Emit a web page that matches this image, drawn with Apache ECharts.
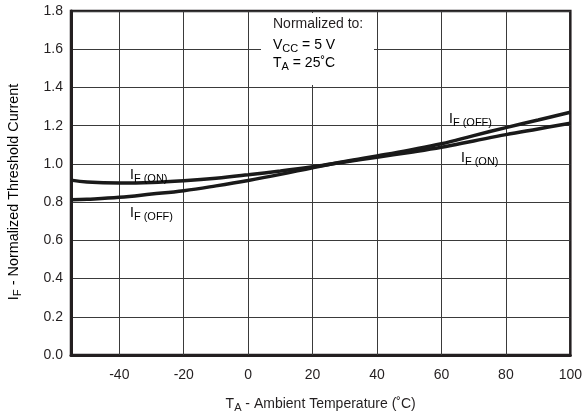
<!DOCTYPE html>
<html>
<head>
<meta charset="utf-8">
<script src="https://cdn.jsdelivr.net/npm/echarts@6/dist/echarts.min.js"></script>
<style>
html,body{margin:0;padding:0;background:#fff;}
#chart{width:585px;height:418px;}
</style>
</head>
<body>
<div id="chart"></div>
<script>
// Data
const temperatures = [-55, -50, -40, -30, -20, -10, 0, 10, 20, 30, 40, 50, 60, 70, 80, 90, 100];
const ifOn  = [0.915, 0.905, 0.900, 0.903, 0.912, 0.925, 0.943, 0.963, 0.985, 1.010, 1.035, 1.060, 1.087, 1.120, 1.153, 1.183, 1.213];
const ifOff = [0.812, 0.815, 0.825, 0.842, 0.860, 0.885, 0.913, 0.945, 0.980, 1.013, 1.042, 1.072, 1.105, 1.148, 1.190, 1.230, 1.270];
const xTicks = [-40, -20, 0, 20, 40, 60, 80, 100];
const yTicks = [0, 0.2, 0.4, 0.6, 0.8, 1.0, 1.2, 1.4, 1.6, 1.8];

const FONT = 'Liberation Sans, Arial, Helvetica, sans-serif';
const TXT = '#231f20';
const FS = 14;

const chart = echarts.init(document.getElementById('chart'), null, {renderer: 'canvas'});

const rich = {
  b: {fontSize: FS, fontFamily: FONT, color: TXT},
  s: {fontSize: FS - 3, fontFamily: FONT, color: TXT, padding: [7, 0, 0, 0]}
};
const richY = {
  b: {fontSize: 14.4, fontFamily: FONT, color: TXT},
  s: {fontSize: 11.4, fontFamily: FONT, color: TXT, padding: [7, 0, 0, 0]}
};

function pairs(ys) { return temperatures.map((t, i) => [t, ys[i]]); }

const option = {
  animation: false,
  backgroundColor: '#fff',
  grid: {left: 71, right: 13, top: 11, bottom: 57, show: true, borderColor: '#231f20', borderWidth: 2.5, backgroundColor: 'transparent'},
  xAxis: {
    type: 'value', min: -55, max: 100,
    axisLine: {show: true, onZero: false, lineStyle: {color: '#231f20', width: 3}},
    axisTick: {show: false},
    splitLine: {show: false},
    axisLabel: {customValues: xTicks, color: TXT, fontSize: FS, fontFamily: FONT, margin: 13},
    name: '{b|T}{s|A}{b| - Ambient Temperature (˚C)}',
    nameLocation: 'middle', nameGap: 40,
    nameTextStyle: {rich: rich}
  },
  yAxis: {
    type: 'value', min: 0, max: 1.8, interval: 0.2,
    axisLine: {show: true, onZero: false, lineStyle: {color: '#231f20', width: 3}},
    axisTick: {show: false},
    splitLine: {show: true, lineStyle: {color: '#3a3a3a', width: 1}},
    axisLabel: {color: TXT, fontSize: FS, fontFamily: FONT, margin: 8, formatter: v => v.toFixed(1)}
  },
  series: [
    {
      name: 'IF (ON)', type: 'line', data: pairs(ifOn), smooth: 0.4, showSymbol: false,
      lineStyle: {color: '#1a1a1a', width: 3.5}, z: 5,
      markLine: {
        silent: true, symbol: 'none', label: {show: false},
        lineStyle: {color: '#3a3a3a', width: 1, type: 'solid'},
        data: xTicks.filter(v => v < 100).map(v => ({xAxis: v}))
      }
    },
    {
      name: 'IF (OFF)', type: 'line', data: pairs(ifOff), smooth: 0.4, showSymbol: false,
      lineStyle: {color: '#1a1a1a', width: 3.5}, z: 5
    }
  ],
  graphic: [
    {type: 'text', x: 14, y: 192, rotation: Math.PI / 2, z: 101,
     style: {text: '{b|I}{s|F}{b| - Normalized Threshold Current}', rich: richY, align: 'center', verticalAlign: 'middle'}},
    {type: 'rect', shape: {x: 261, y: 13, width: 113, height: 72}, style: {fill: '#fff'}, z: 100},
    {type: 'text', x: 273, y: 17, z: 101, style: {text: 'Normalized to:', font: FS + 'px ' + FONT, fill: TXT}},
    {type: 'text', x: 273, y: 36, z: 101, style: {text: '{b|V}{s|CC}{b| = 5 V}', rich: rich}},
    {type: 'text', x: 273, y: 54, z: 101, style: {text: '{b|T}{s|A}{b| = 25˚C}', rich: rich}},
    {type: 'text', x: 130, y: 166, z: 101, style: {text: '{b|I}{s|F (ON)}', rich: rich}},
    {type: 'text', x: 130, y: 204, z: 101, style: {text: '{b|I}{s|F (OFF)}', rich: rich}},
    {type: 'text', x: 449, y: 110, z: 101, style: {text: '{b|I}{s|F (OFF)}', rich: rich}},
    {type: 'text', x: 461, y: 149, z: 101, style: {text: '{b|I}{s|F (ON)}', rich: rich}}
  ]
};
chart.setOption(option);
</script>
</body>
</html>
